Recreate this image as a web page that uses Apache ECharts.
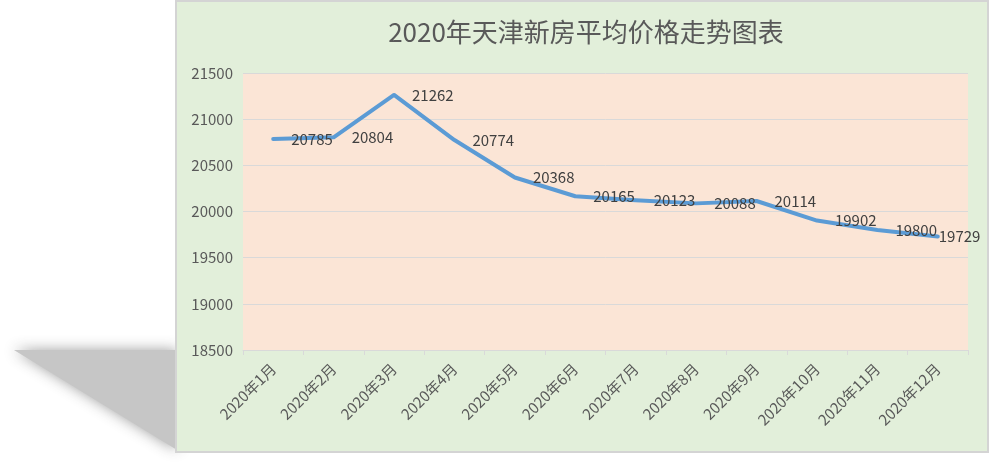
<!DOCTYPE html>
<html>
<head>
<meta charset="utf-8">
<script src="https://cdn.jsdelivr.net/npm/echarts@6/dist/echarts.min.js"></script>
<style>
html,body{margin:0;padding:0;background:#fff;}
#c{width:1000px;height:463px;}
</style>
</head>
<body>
<div id="c"></div>
<script>
const titleText = '2020年天津新房平均价格走势图表';
const categories = ['2020年1月','2020年2月','2020年3月','2020年4月','2020年5月','2020年6月','2020年7月','2020年8月','2020年9月','2020年10月','2020年11月','2020年12月'];
const prices = [20785, 20804, 21262, 20774, 20368, 20165, 20123, 20088, 20114, 19902, 19800, 19729];
const yMin = 18500, yMax = 21500, yStep = 500;

const chart = echarts.init(document.getElementById('c'), null, {renderer: 'canvas'});
const fontCJK = '"Noto Sans CJK SC", "Noto Sans", sans-serif';

const seriesData = prices.map((v, i) => {
  if (i === prices.length - 1) {
    return {value: v, label: {distance: 0, offset: [0, 2]}};
  }
  return v;
});

chart.setOption({
  backgroundColor: '#ffffff',
  animation: false,
  graphic: [
    {
      type: 'polygon',
      z: -10,
      shape: {points: [[14, 350], [177, 350], [177, 450]]},
      style: {fill: '#c6c6c6', shadowBlur: 14, shadowColor: 'rgba(150,150,150,0.9)'},
      silent: true
    },
    {
      type: 'rect',
      z: -5,
      shape: {x: 176, y: 1, width: 812, height: 451},
      style: {fill: '#E2EFDA', stroke: '#D4D4D4', lineWidth: 2},
      silent: true
    }
  ],
  title: {
    text: titleText,
    left: 581,
    top: 14,
    textAlign: 'center',
    textStyle: {fontFamily: fontCJK, fontSize: 26, fontWeight: 'normal', color: '#595959'}
  },
  grid: {
    left: 243, right: 32, top: 73, bottom: 113,
    show: true, backgroundColor: '#FBE5D6', borderWidth: 0
  },
  xAxis: {
    type: 'category',
    data: categories,
    boundaryGap: true,
    axisLine: {lineStyle: {color: '#D9D9D9', width: 1}},
    axisTick: {show: true, alignWithLabel: false, length: 5, lineStyle: {color: '#D9D9D9'}},
    axisLabel: {rotate: 45, margin: 16, fontSize: 15, color: '#595959', fontFamily: fontCJK, interval: 0}
  },
  yAxis: {
    type: 'value',
    min: yMin, max: yMax, interval: yStep,
    axisLine: {show: false},
    axisTick: {show: false},
    splitLine: {lineStyle: {color: '#D9D9D9', width: 1}},
    axisLabel: {fontSize: 15, color: '#595959', margin: 10, fontFamily: fontCJK, formatter: v => String(v)}
  },
  series: [{
    type: 'line',
    data: seriesData,
    symbol: 'circle',
    symbolSize: 2,
    showSymbol: true,
    itemStyle: {color: 'rgba(91,155,213,0)', borderWidth: 0},
    lineStyle: {color: '#5B9BD5', width: 4, cap: 'round', join: 'round'},
    labelLayout: {hideOverlap: false},
    label: {
      show: true,
      position: 'right',
      distance: 17,
      fontSize: 15,
      color: '#404040',
      opacity: 1,
      fontFamily: fontCJK
    }
  }]
});
</script>
</body>
</html>
